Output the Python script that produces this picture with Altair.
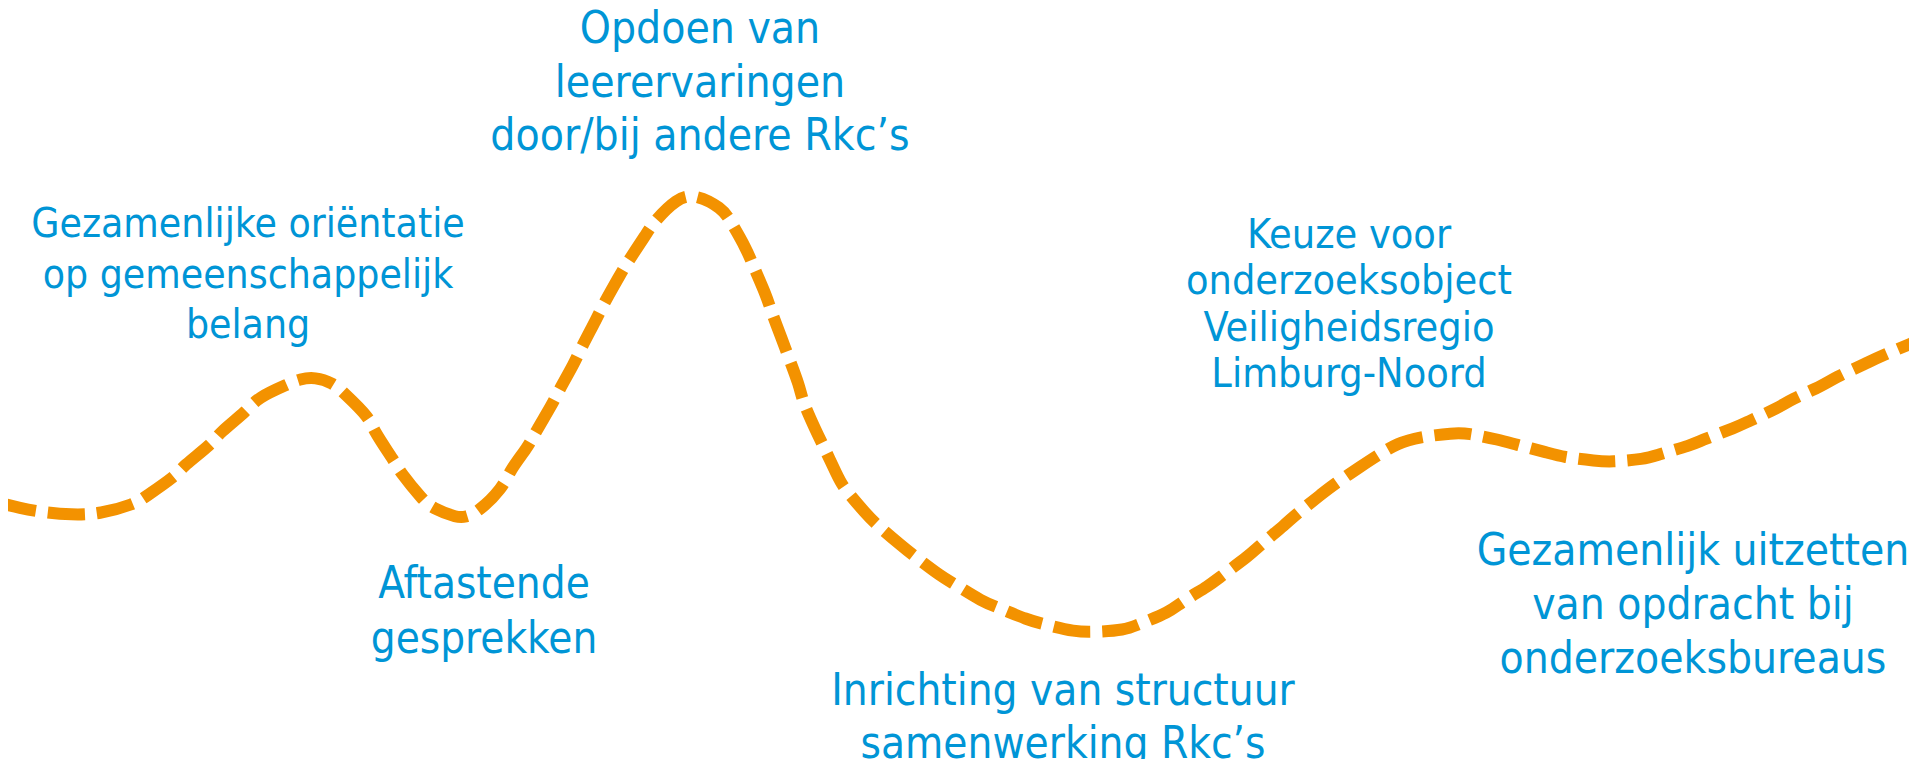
import altair as alt
import pandas as pd

# Curve path (pixel space of the 1917x767 reference)
curve_x = [0, 20, 40, 72, 100, 135, 145, 177, 182, 213, 218, 248, 257, 288, 300, 315, 333,
           343, 370, 373, 395, 400, 423, 432, 458, 465, 477, 503, 510, 528, 535, 553, 558,
           575, 580, 597, 603, 620, 627, 647, 653, 677, 695, 722, 730, 747, 752, 767, 770,
           783, 787, 800, 802, 817, 822, 838, 843, 867, 877, 903, 913, 942, 953, 983, 997,
           1028, 1043, 1075, 1095, 1125, 1137, 1170, 1180, 1210, 1220, 1250, 1258, 1287,
           1295, 1323, 1333, 1363, 1375, 1398, 1419, 1454, 1467, 1500, 1514, 1549, 1562,
           1597, 1610, 1645, 1657, 1692, 1702, 1737, 1747, 1780, 1790, 1824, 1834, 1867,
           1879, 1917]
curve_y = [503, 508, 512, 515, 514, 504, 497, 475, 467, 443, 434, 410, 398, 384, 379, 377, 383,
           392, 418, 430, 462, 472, 500, 508, 518, 517, 513, 488, 470, 447, 433, 403, 392,
           362, 350, 318, 305, 275, 263, 233, 223, 198, 194, 208, 220, 250, 263, 297, 308,
           342, 353, 387, 400, 433, 443, 477, 487, 515, 525, 547, 555, 577, 583, 602, 607,
           620, 624, 632, 632, 630, 625, 612, 603, 585, 577, 555, 547, 523,
           515, 493, 485, 465, 457, 443, 437, 433, 433, 440, 444, 453, 457,
           461, 462, 459, 455, 445, 440, 427, 422, 407, 400, 385, 378, 363,
           357, 341]

# Annotation blocks
label_lines = [
    ["Opdoen van", "leerervaringen", "door/bij andere Rkc\u2019s"],
    ["Gezamenlijke ori\u00ebntatie", "op gemeenschappelijk", "belang"],
    ["Keuze voor", "onderzoeksobject", "Veiligheidsregio", "Limburg-Noord"],
    ["Aftastende", "gesprekken"],
    ["Inrichting van structuur", "samenwerking Rkc\u2019s"],
    ["Gezamenlijk uitzetten", "van opdracht bij", "onderzoeksbureaus"],
]
label_x = [700, 248, 1349, 484, 1063, 1693]
label_y = [43, 237, 248, 598, 705, 565]
label_size = [44, 40.5, 41, 43.6, 43.7, 43.9]
label_lh = [53.5, 50.5, 46.3, 55, 53, 54]

ORANGE = "#F39200"
BLUE = "#0095D6"
FONT = "DejaVu Sans Condensed, DejaVu Sans"

xs = alt.Scale(domain=[8, 1909])
ys = alt.Scale(domain=[8, 759], reverse=True)

curve_df = pd.DataFrame({"x": curve_x, "y": curve_y})
line = alt.Chart(curve_df).mark_line(
    color=ORANGE, strokeWidth=12, strokeDash=[37, 12], strokeCap="butt",
    interpolate="basis", clip=False
).encode(
    x=alt.X("x:Q", scale=xs, axis=None),
    y=alt.Y("y:Q", scale=ys, axis=None),
)

layers = [line]
for i in range(len(label_lines)):
    df = pd.DataFrame({"x": [label_x[i]], "y": [label_y[i]], "t": [label_lines[i]]})
    layers.append(
        alt.Chart(df).mark_text(
            font=FONT, fontSize=label_size[i], lineHeight=label_lh[i], color=BLUE,
            align="center", baseline="alphabetic"
        ).encode(
            x=alt.X("x:Q", scale=xs, axis=None),
            y=alt.Y("y:Q", scale=ys, axis=None),
            text="t",
        )
    )

chart = alt.layer(*layers).properties(
    width=1901, height=751, padding=0, autosize=alt.AutoSizeParams(type="none")
).configure_view(stroke=None)

chart.save("out.html", embed_options={"renderer": "svg", "actions": False})
